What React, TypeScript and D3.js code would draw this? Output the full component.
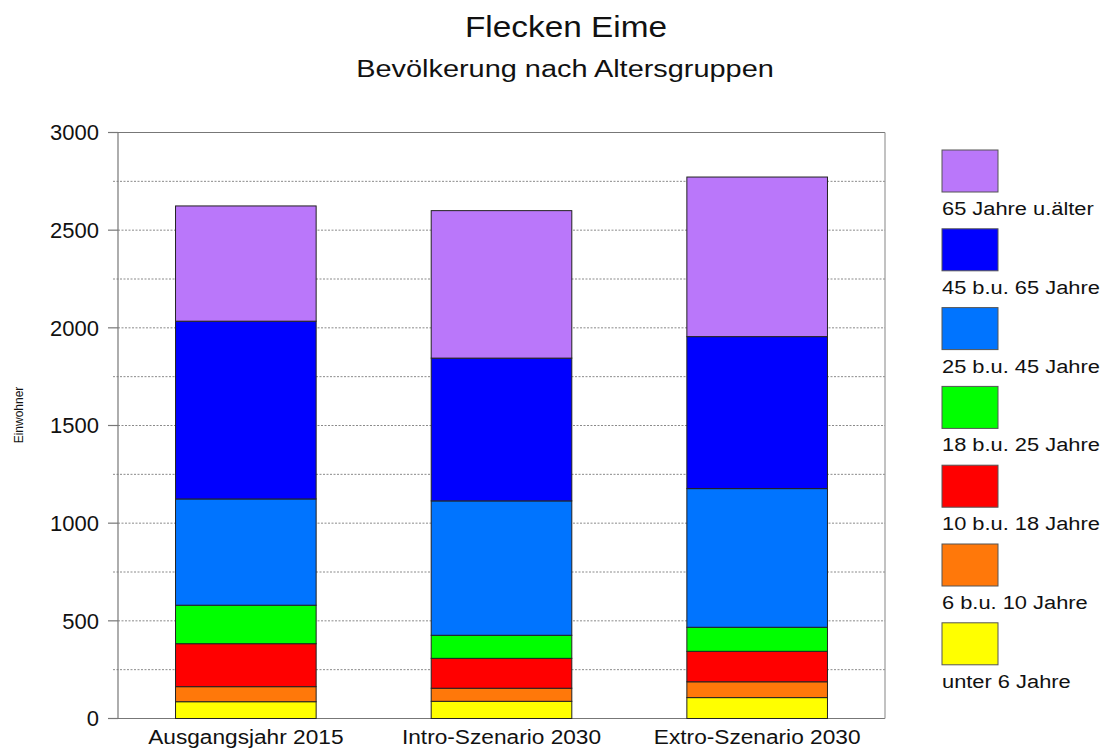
import React from "react";
import * as d3 from "d3";

// Szenarien (x-Achse)
const scenarios = ["Ausgangsjahr 2015", "Intro-Szenario 2030", "Extro-Szenario 2030"];

// Altersgruppen, von unten nach oben gestapelt
const groups = [
  "unter 6 Jahre",
  "6 b.u. 10 Jahre",
  "10 b.u. 18 Jahre",
  "18 b.u. 25 Jahre",
  "25 b.u. 45 Jahre",
  "45 b.u. 65 Jahre",
  "65 Jahre u.älter",
];

// Einwohner je Altersgruppe und Szenario
const unter6 = [86, 88, 107];
const von6bis10 = [77, 67, 81];
const von10bis18 = [220, 153, 156];
const von18bis25 = [197, 118, 123];
const von25bis45 = [544, 688, 710];
const von45bis65 = [910, 731, 778];
const ab65 = [590, 755, 817];

const seriesValues = [unter6, von6bis10, von10bis18, von18bis25, von25bis45, von45bis65, ab65];

const groupColors = ["#FFFF00", "#FF780A", "#FF0000", "#00FF00", "#0074FF", "#0000FF", "#BA77FA"];

const yTicks = [0, 500, 1000, 1500, 2000, 2500, 3000];
const yGrid = [250, 500, 750, 1000, 1250, 1500, 1750, 2000, 2250, 2500, 2750];

const W = 1106;
const H = 749;
const FONT = "'Liberation Sans', Arial, Helvetica, sans-serif";
const STRETCH = 1.15;

export default function App() {
  const left = 118;
  const right = 885;
  const top = 132.5;
  const bottom = 718.5;

  const x = d3.scaleBand<string>().domain(scenarios).range([left, right]).paddingInner(0.45).paddingOuter(0.225);
  const y = d3.scaleLinear().domain([0, 3000]).range([bottom, top]);

  const table = scenarios.map((s, i) => {
    const row: Record<string, any> = { scenario: s };
    groups.forEach((g, gi) => (row[g] = seriesValues[gi][i]));
    return row;
  });
  const stacked = d3.stack<any>().keys(groups)(table);
  const color = d3.scaleOrdinal<string, string>().domain(groups).range(groupColors);

  const legendX = 942;
  const legendY = 150;
  const legendStep = 78.8;
  const legendOrder = [...groups].reverse();

  return (
    <svg
      width={W}
      height={H}
      style={{ position: "absolute", left: 0, top: 0, background: "#fff" }}
      fontFamily={FONT}
    >
      <rect x={0} y={0} width={W} height={H} fill="#fff" />

      {/* Titel */}
      <text transform={`translate(566,37) scale(${STRETCH},1)`} textAnchor="middle" fontSize={29} fill="#111">
        Flecken Eime
      </text>
      <text transform={`translate(565,77) scale(${STRETCH + 0.03},1)`} textAnchor="middle" fontSize={24.5} fill="#111">
        Bevölkerung nach Altersgruppen
      </text>

      {/* Hilfslinien */}
      {yGrid.map((v) => (
        <line
          key={"g" + v}
          x1={v % 500 === 0 ? left : 113}
          x2={right}
          y1={y(v)}
          y2={y(v)}
          stroke="#8a8a8a"
          strokeWidth={1}
          strokeDasharray="2,1.5"
        />
      ))}

      {/* Achsen und Rahmen */}
      <line x1={108} x2={right} y1={y(3000)} y2={y(3000)} stroke="#777" strokeWidth={1.2} />
      <line x1={108} x2={right} y1={y(0)} y2={y(0)} stroke="#777" strokeWidth={1.2} />
      <line x1={left} x2={left} y1={top} y2={bottom} stroke="#777" strokeWidth={1.2} />
      <line x1={right} x2={right} y1={top} y2={bottom} stroke="#999" strokeWidth={1.2} />
      {yTicks.map((v) => (
        <g key={"t" + v}>
          <line x1={108} x2={left} y1={y(v)} y2={y(v)} stroke="#777" strokeWidth={1.2} />
          <text x={99} y={y(v)} dy="0.36em" textAnchor="end" fontSize={22} fill="#111">
            {v}
          </text>
        </g>
      ))}

      {/* Achsentitel */}
      <text transform={`translate(23,415) rotate(-90)`} textAnchor="middle" fontSize={12} fill="#111">
        Einwohner
      </text>

      {/* Gestapelte Säulen */}
      {stacked.map((layer) => (
        <g key={layer.key} fill={color(layer.key)}>
          {layer.map((d, i) => (
            <rect
              key={i}
              x={x(scenarios[i])!}
              width={x.bandwidth()}
              y={y(d[1])}
              height={y(d[0]) - y(d[1])}
              stroke="#222"
              strokeWidth={1}
            />
          ))}
        </g>
      ))}

      {/* Kategorien */}
      {scenarios.map((s) => (
        <text
          key={s}
          transform={`translate(${x(s)! + x.bandwidth() / 2},744) scale(1.08,1)`}
          textAnchor="middle"
          fontSize={21}
          fill="#111"
        >
          {s}
        </text>
      ))}

      {/* Legende */}
      {legendOrder.map((g, i) => (
        <g key={g} transform={`translate(${legendX},${legendY + i * legendStep})`}>
          <rect x={0} y={0} width={56} height={42} fill={color(g)} stroke="#555" strokeWidth={1} />
          <text transform={`translate(0,65) scale(${STRETCH},1)`} fontSize={19} fill="#111">
            {g}
          </text>
        </g>
      ))}
    </svg>
  );
}
